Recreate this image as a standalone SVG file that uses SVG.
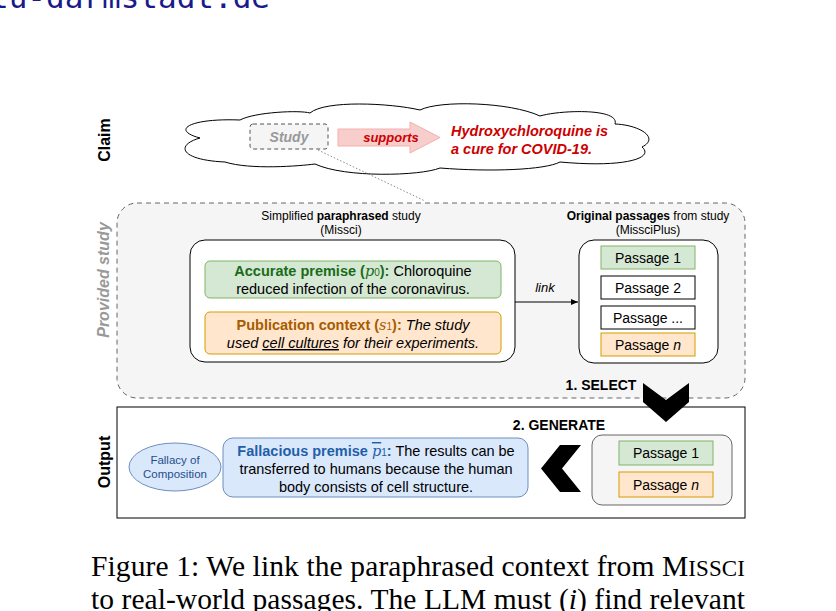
<svg xmlns="http://www.w3.org/2000/svg" width="836" height="611" viewBox="0 0 836 611">
<style>
.s{font-family:"Liberation Sans",Arial,sans-serif}
.b{font-weight:bold}
.i{font-style:italic}
.c{text-anchor:middle}
.pg{fill:#d5e8d4;stroke:#82b366}
.po{fill:#ffe6cc;stroke:#d79b00}
.pw{fill:#fff;stroke:#000}
</style>
<defs><marker id="ar" markerWidth="8" markerHeight="8" refX="7" refY="4" orient="auto"><path d="M0,1 L7,4 L0,7 Z" fill="#000"/></marker></defs>
<rect width="836" height="611" fill="#fff"/>
<text x="-10" y="8" font-family="'DejaVu Sans Mono',monospace" font-size="31" fill="#1a1a8c">tu-darmstadt.de</text>
<g id="labels" class="s b" font-size="16">
<text transform="translate(110,140) rotate(-90)" class="c">Claim</text>
<text transform="translate(109,280) rotate(-90)" class="c i" fill="#999">Provided study</text>
<text transform="translate(110,462) rotate(-90)" class="c">Output</text>
</g>
<g id="cloud">
<path d="M240,120 C190,118 170,130 200,138 C175,145 180,160 225,162 C250,170 300,166 315,164 C345,178 420,176 440,168 C490,172 545,170 560,162 C625,168 655,158 642,147 C660,138 640,125 615,124 C620,108 560,110 540,116 C510,102 440,100 420,110 C390,103 325,100 310,113 C300,110 255,112 240,120 Z" fill="#fff" stroke="#000"/>
</g>
<g id="study"><rect x="250" y="124" width="78" height="25" rx="3" fill="#f5f5f5" stroke="#555" stroke-dasharray="4,3"/><text x="289" y="142" class="s b i c" font-size="14" fill="#999">Study</text></g>
<g id="supports"><path d="M338,129 L410,129 L410,122 L440,137.5 L410,153 L410,146 L338,146 Z" fill="#f8cecc" stroke="#f3b0ae"/><text x="391" y="142" class="s b i c" font-size="13" fill="#c00">supports</text></g>
<g id="claimtext" class="s b i" font-size="14.5" fill="#c00"><text x="451" y="136">Hydroxychloroquine is</text><text x="451" y="154">a cure for COVID-19.</text></g>
<g id="provided"><rect x="117" y="203" width="628" height="195" rx="20" fill="#f5f5f5" stroke="#666" stroke-dasharray="5,4"/></g>
<g id="simplified" class="s" font-size="12">
<text x="341" y="220" class="c">Simplified <tspan class="b">paraphrased</tspan> study</text><text x="341" y="234" class="c">(Missci)</text>
<rect x="190" y="240" width="325" height="122" rx="15" fill="#fff" stroke="#000"/>
<rect x="205" y="261" width="296" height="37" rx="5" class="pg"/>
<text x="353" y="276" class="c" font-size="14.5"><tspan class="b" fill="#1a6b1a">Accurate premise (<tspan font-family="'DejaVu Serif',serif" class="i" font-weight="normal">p</tspan><tspan font-size="10" font-weight="normal">0</tspan>):</tspan> Chloroquine</text>
<text x="353" y="294" class="c" font-size="14.5">reduced infection of the coronavirus.</text>
<rect x="205" y="312" width="296" height="42" rx="5" class="po"/>
<text x="353" y="330" class="c" font-size="14.5"><tspan class="b" fill="#a65c00">Publication context (<tspan font-family="'DejaVu Serif',serif" class="i" font-weight="normal">s</tspan><tspan font-size="10" font-weight="normal">1</tspan>):</tspan> <tspan class="i">The study</tspan></text>
<text x="353" y="348" class="c i" font-size="14.5">used <tspan text-decoration="underline">cell cultures</tspan> for their experiments.</text>
</g>
<g id="original" class="s" font-size="14">
<text x="648" y="220" class="c" font-size="12"><tspan class="b">Original passages</tspan> from study</text><text x="648" y="234" class="c" font-size="12">(MissciPlus)</text>
<rect x="579" y="240" width="139" height="123" rx="15" fill="#fff" stroke="#000"/>
<rect x="601" y="246" width="94" height="23" class="pg"/><text x="648" y="263" class="c">Passage 1</text>
<rect x="601" y="276" width="94" height="23" class="pw"/><text x="648" y="293" class="c">Passage 2</text>
<rect x="601" y="306" width="94" height="23" class="pw"/><text x="648" y="323" class="c">Passage ...</text>
<rect x="601" y="333" width="94" height="23" class="po"/><text x="648" y="350" class="c">Passage <tspan class="i">n</tspan></text>
</g>
<g id="connectors">
<line x1="318" y1="150" x2="425" y2="201" stroke="#888" stroke-dasharray="1.5,2"/>
<line x1="515" y1="302" x2="578" y2="302" stroke="#000" marker-end="url(#ar)"/>
</g>
<text x="545" y="292" class="s i c" font-size="13">link</text>
<text x="601" y="390" class="s b c" font-size="14">1. SELECT</text>
<g id="output"><rect x="117" y="407" width="628" height="111" fill="#fff" stroke="#000"/></g>
<path id="chev-down" d="M643,383 L666,400 L689,383 L689,402 L666,422 L643,402 Z" fill="#000"/>
<text x="559" y="430" class="s b c" font-size="14">2. GENERATE</text>
<g id="fallacy"><ellipse cx="175" cy="467" rx="46" ry="24" fill="#dae8fc" stroke="#6c8ebf"/><text x="175" y="464" class="s c" font-size="11.5" fill="#1f4e8c">Fallacy of</text><text x="175" y="478" class="s c" font-size="11.5" fill="#1f4e8c">Composition</text></g>
<g id="fallacious" class="s c" font-size="14.5">
<rect x="223" y="438" width="305" height="59" rx="10" fill="#dae8fc" stroke="#6c8ebf"/>
<text x="376" y="456"><tspan class="b" fill="#1f5fa8">Fallacious premise <tspan font-family="'DejaVu Serif',serif" class="i" font-weight="normal" text-decoration="overline">p</tspan><tspan font-size="10" font-weight="normal">1</tspan>:</tspan> The results can be</text>
<text x="376" y="474">transferred to humans because the human</text>
<text x="376" y="492">body consists of cell structure.</text>
</g>
<path id="chev-left" d="M581,445 L562,468.5 L581,492 L560,492 L541,468.5 L560,445 Z" fill="#000"/>
<g id="selected" class="s c" font-size="14">
<rect x="592" y="435" width="140" height="70" rx="10" fill="#f5f5f5" stroke="#666"/>
<rect x="619" y="441" width="94" height="24" class="pg"/><text x="666" y="458">Passage 1</text>
<rect x="619" y="472" width="94" height="25" class="po"/><text x="666" y="490">Passage <tspan class="i">n</tspan></text>
</g>
<g id="caption" font-family="'Liberation Serif','Times New Roman',serif" font-size="29.5">
<text x="91" y="576" textLength="654" lengthAdjust="spacing">Figure 1: We link the paraphrased context from M<tspan font-size="23">ISSCI</tspan></text>
<text x="91" y="609" textLength="654" lengthAdjust="spacing">to real-world passages. The LLM must (<tspan font-style="italic">i</tspan>) find relevant</text>
</g>
</svg>
